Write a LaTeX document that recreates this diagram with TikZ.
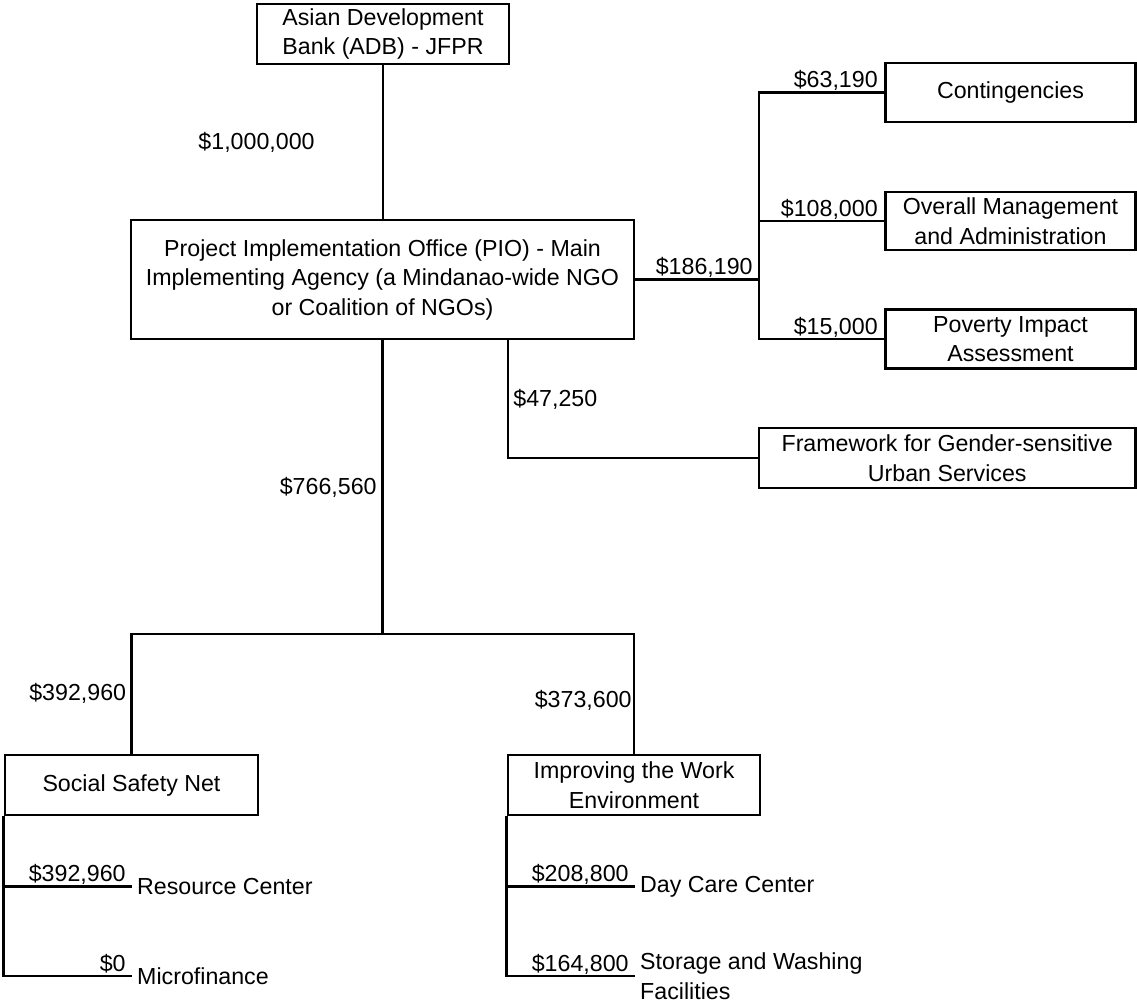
\documentclass[tikz,border=0pt]{standalone}
\usepackage{fontspec}
\setmainfont{Liberation Sans}

\begin{document}
\begin{tikzpicture}[
    x=1pt,y=-1pt,font=\fontsize{23.2}{29.5}\selectfont,
    link/.style={line width=2.8pt},
    unit/.style={draw,line width=2.8pt,align=center,inner sep=0pt,
        minimum width=252pt,minimum height=60pt},
    leaf/.style={anchor=west,inner sep=5pt,align=left},
    amount/.style={anchor=base east,inner sep=0pt,xshift=-5pt,yshift=5pt},
    side label/.style={inner sep=0pt}
]
    \useasboundingbox (0,0) rectangle (1137,1005);

    % Funding source and main implementing agency.
    \node[unit] (adb) at (383,34) {Asian Development\\Bank (ADB) - JFPR};
    \node[unit,minimum width=503pt,minimum height=119pt] (pio) at (382.5,279.5)
        {Project Implementation Office (PIO) - Main\\Implementing Agency (a Mindanao-wide NGO\\or Coalition of NGOs)};
    \draw[link] (adb.south) -- node[side label,anchor=east,xshift=-67pt] {\$1,000,000} (adb.south |- pio.north);

    % Management lines to the right of the PIO.
    \node[unit,minimum width=250pt,minimum height=59pt] (cont) at (1010.5,92.5) {Contingencies};
    \node[unit,minimum width=250pt,minimum height=58pt] (mgmt) at (1010.5,221)
        {Overall Management\\and Administration};
    \node[unit,minimum width=250pt,minimum height=59pt] (impact) at (1010.5,339)
        {Poverty Impact\\Assessment};
    \coordinate (split) at (759,279.5);
    \draw[link] (pio.east) -- (split) node[amount] {\$186,190};
    \foreach \target/\amount in {cont/{63,190},mgmt/{108,000},impact/{15,000}}
        \draw[link] (split) |- (\target.west) node[amount] {\$\amount};

    % Gender framework, taken off the PIO bottom edge.
    \node[unit,minimum width=376.5pt] (gender) at (947.25,458)
        {Framework for Gender-sensitive\\Urban Services};
    \draw[link] ([xshift=125.5pt]pio.south) |- node[pos=.25,side label,anchor=west,xshift=4pt] {\$47,250} (gender.west);

    % Two programme components.
    \node[unit,minimum width=253pt] (ssn) at (131.5,785) {Social Safety Net};
    \node[unit] (iwe) at (634,785) {Improving the Work\\Environment};
    \coordinate (fork) at (382.5,634);
    \draw[link] (pio.south) -- node[side label,anchor=east,xshift=-4.5pt] {\$766,560} (fork);
    \draw[link] (ssn.north) |- node[pos=.25,side label,anchor=east,xshift=-4pt] {\$392,960} (fork);
    \draw[link] (fork) -| node[pos=.75,side label,anchor=east,xshift=-1pt,yshift=-7pt] {\$373,600} (iwe.north);

    % Activities under each component.
    \node[leaf] (resource) at (132,886.5) {Resource Center};
    \node[leaf] (micro) at (132,976) {Microfinance};
    \node[leaf] (daycare) at (635,886.5) {Day Care Center};
    \node[leaf] (storage) at (635,976) {Storage and Washing\\Facilities};
    \draw[link] (ssn.south west) |- (resource.west) node[amount] {\$392,960};
    \draw[link] (ssn.south west) |- (micro.west) node[amount] {\$0};
    \draw[link] (iwe.south west) |- (daycare.west) node[amount] {\$208,800};
    \draw[link] (iwe.south west) |- (storage.west) node[amount] {\$164,800};
\end{tikzpicture}
\end{document}
